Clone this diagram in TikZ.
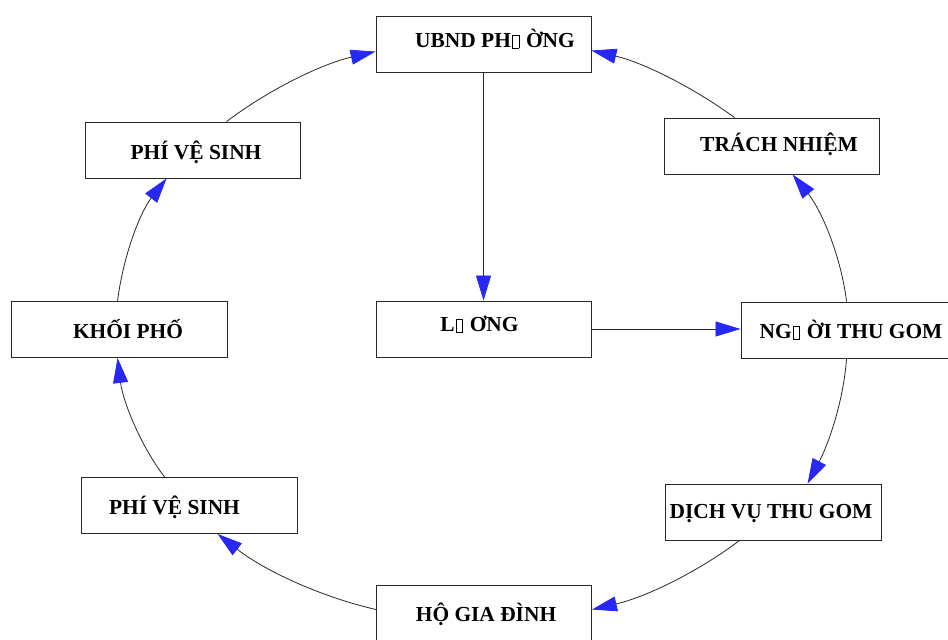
\documentclass[tikz,border=0pt]{standalone}
\usepackage{fontspec}
\setmainfont{Liberation Serif}
\usetikzlibrary{arrows.meta}
\definecolor{tipblue}{RGB}{40,40,246}
\definecolor{edge}{RGB}{40,40,40}
% empty box standing in for a glyph the font could not show
\newcommand{\nog}{\begingroup\setlength{\fboxsep}{0pt}\setlength{\fboxrule}{0.6pt}\hspace{1.5pt}\fbox{\rule{0pt}{12.6pt}\hspace{5.6pt}}\hspace{1.5pt}\endgroup}
\begin{document}
\begin{tikzpicture}[x=1pt,y=1pt,
  box/.style={draw=edge, rectangle, line width=0.9pt, minimum width=215pt, minimum height=56pt, inner sep=0pt},
  lbl/.style={anchor=base, inner sep=0pt, font=\fontsize{21.4}{25}\selectfont\bfseries},
  conn/.style={draw=edge, line width=0.8pt, -{Triangle[length=25pt,width=15pt,color=tipblue]}},
  ring/.style={conn, looseness=0.85}]
\clip (0,0) rectangle (948,640);
\fill[white] (0,0) rectangle (948,640);

% boxes
\node[box] (ubnd)  at (483.5,596) {};
\node[box] (trach) at (771.5,494) {};
\node[box, minimum width=216pt] (nguoi) at (849,310) {};
\node[box, minimum width=216pt] (dich) at (773,128) {};
\node[box] (ho)    at (484,27) {};
\node[box, minimum width=216pt] (phi2) at (189,134.5) {};
\node[box, minimum width=216pt] (khoi) at (119,310.5) {};
\node[box] (phi1)  at (192.5,490) {};
\node[box] (luong) at (484,311) {};

% captions
\node[lbl] (t-ubnd)  at (495,592)   {UBND PH\nog\ ỜNG};
\node[lbl] (t-trach) at (779,488)   {TRÁCH NHIỆM};
\node[lbl] (t-nguoi) at (851,301)   {NG\nog\ ỜI THU GOM};
\node[lbl] (t-dich)  at (771,121)   {DỊCH VỤ THU GOM};
\node[lbl] (t-ho)    at (486,18)    {HỘ GIA ĐÌNH};
\node[lbl] (t-phi2)  at (174.5,125) {PHÍ VỆ SINH};
\node[lbl] (t-khoi)  at (128,301)   {KHỐI PHỐ};
\node[lbl] (t-phi1)  at (196,480)   {PHÍ VỆ SINH};
\node[lbl] (t-luong) at (479.5,308) {L\nog\ ƠNG};

% straight links
\draw[conn] (ubnd.south) -- (ubnd.south |- luong.north);
\draw[conn] (luong.east) -- (luong.east -| nguoi.west);

% right half of the ring
\draw[ring] ([xshift=106pt]nguoi.north west) to[out=97,in=-51] ([xshift=129pt]trach.south west);
\draw[ring] ([xshift=71pt]trach.north west) to[out=144,in=-13] ([yshift=-35pt]ubnd.north east);
\draw[ring] ([xshift=106pt]nguoi.south west) to[out=-94,in=62] ([xshift=143pt]dich.north west);
\draw[ring] ([xshift=75pt]dich.south west) to[out=217,in=13] ([yshift=-25pt]ho.north east);

% left half of the ring
\draw[ring] ([yshift=-25pt]ho.north west) to[out=167,in=-38] ([xshift=137pt]phi2.south west);
\draw[ring] ([xshift=84pt]phi2.north west) to[out=127,in=-83] ([xshift=107pt]khoi.south west);
\draw[ring] ([xshift=107pt]khoi.north west) to[out=83,in=232] ([xshift=82pt]phi1.south west);
\draw[ring] ([xshift=142pt]phi1.north west) to[out=37,in=193] ([yshift=-36pt]ubnd.north west);
\end{tikzpicture}
\end{document}
